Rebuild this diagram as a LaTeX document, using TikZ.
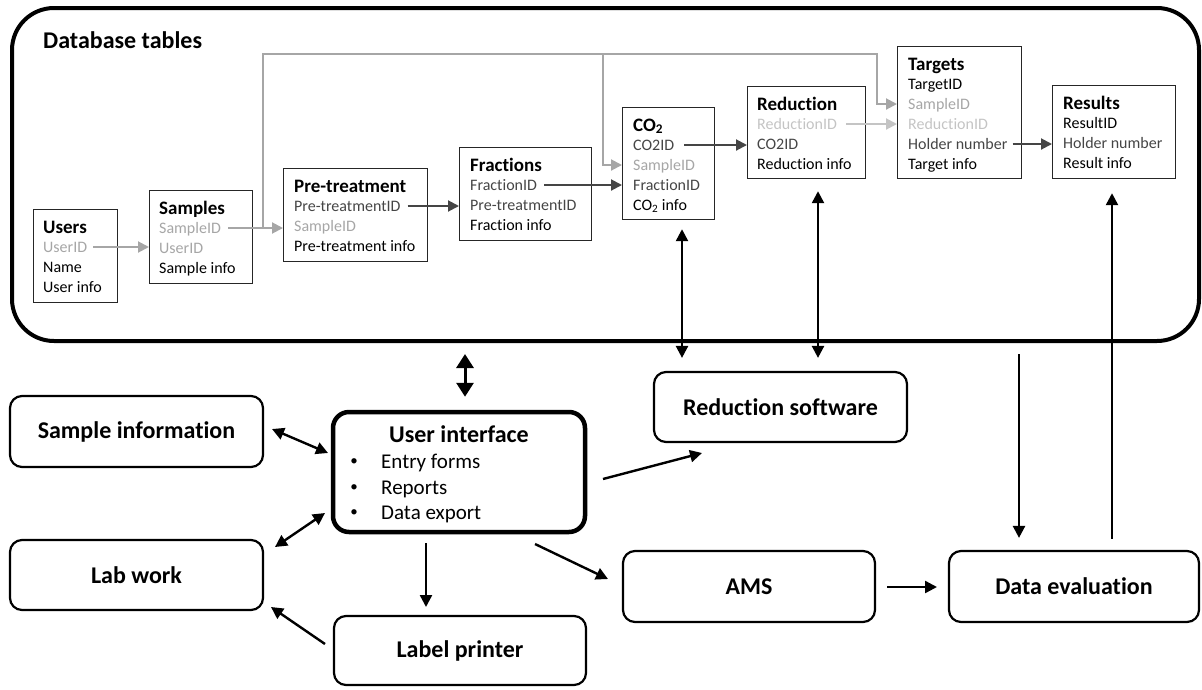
\documentclass[tikz,border=0pt]{standalone}
\usepackage{fontspec}
\setmainfont{Carlito}[Ligatures=NoCommon]
\usetikzlibrary{arrows.meta,calc}
\definecolor{keyL}{HTML}{A6A6A6}
\definecolor{keyVL}{HTML}{C4C4C4}
\definecolor{keyD}{HTML}{454545}
\begin{document}
\begin{tikzpicture}[x=1pt,y=-1pt,
  tbl/.style={draw=black!85, line width=1.2pt, inner sep=0pt, anchor=north west},
  fld/.style={anchor=west, inner sep=0pt, font=\fontsize{16}{20}\selectfont, text height=10.2pt, text depth=0pt},
  ttl/.style={anchor=west, inner sep=0pt, font=\fontsize{19}{23}\selectfont\bfseries, text height=12pt, text depth=0pt},
  lbox/.style={draw, line width=2.2pt, rounded corners=12pt, inner sep=0pt, font=\fontsize{24}{28}\selectfont\bfseries},
  item/.style={anchor=west, inner sep=0pt, font=\fontsize{21}{26}\selectfont, text height=13.5pt, text depth=0pt},
  bul/.style={inner sep=0pt, font=\fontsize{15}{18}\selectfont},
  fa/.style={line width=2pt, -{Triangle[length=11pt,width=11pt]}},
  arr/.style={line width=2.4pt, -{Triangle[length=12pt,width=12pt]}},
  darr/.style={line width=2.4pt, {Triangle[length=12pt,width=12pt]}-{Triangle[length=12pt,width=12pt]}},
  darrB/.style={line width=3pt, {Triangle[length=14pt,width=17pt]}-{Triangle[length=14pt,width=17pt]}}
]
\useasboundingbox (0,0) rectangle (1202,689);

% database frame
\node[draw, line width=4pt, rounded corners=42pt, minimum width=1187pt, minimum height=333pt, anchor=north west, inner sep=0pt] (db) at (10,6) {};
\node[anchor=west, inner sep=0pt, font=\fontsize{24}{28}\selectfont\bfseries] (dbt) at (43,40) {Database tables};

% Users
\node[tbl, minimum width=84pt, minimum height=93pt] (users) at (33,209) {};
\node[ttl] (u-t) at (43,227) {Users};
\node[fld, text=keyL] (u-uid) at (43,247) {UserID};
\node[fld] (u-name) at (43,267) {Name};
\node[fld] (u-info) at (43,287) {User info};

% Samples
\node[tbl, minimum width=103pt, minimum height=93pt] (samples) at (149,190) {};
\node[ttl] (s-t) at (159,208) {Samples};
\node[fld, text=keyL] (s-sid) at (159,228) {SampleID};
\node[fld, text=keyL] (s-uid) at (159,248) {UserID};
\node[fld] (s-info) at (159,268) {Sample info};

% Pre-treatment
\node[tbl, minimum width=144pt, minimum height=93pt] (pre) at (283,168) {};
\node[ttl] (p-t) at (294,186) {Pre-treatment};
\node[fld, text=keyD] (p-pid) at (294,206) {Pre-treatmentID};
\node[fld, text=keyL] (p-sid) at (294,226) {SampleID};
\node[fld] (p-info) at (294,246) {Pre-treatment info};

% Fractions
\node[tbl, minimum width=132pt, minimum height=93pt] (fractions) at (459,147) {};
\node[ttl] (f-t) at (470,165) {Fractions};
\node[fld, text=keyD] (f-fid) at (470,185) {FractionID};
\node[fld, text=keyD] (f-pid) at (470,205) {Pre-treatmentID};
\node[fld] (f-info) at (470,225) {Fraction info};

% CO2
\node[tbl, minimum width=92pt, minimum height=112pt] (co2) at (622,107) {};
\node[ttl] (c-t) at (633,125) {CO\textsubscript{2}};
\node[fld, text=keyD] (c-cid) at (633,145) {CO2ID};
\node[fld, text=keyL] (c-sid) at (633,165) {SampleID};
\node[fld, text=keyD] (c-fid) at (633,185) {FractionID};
\node[fld] (c-info) at (633,205) {CO\textsubscript{2} info};

% Reduction
\node[tbl, minimum width=118pt, minimum height=92pt] (reduction) at (747,86) {};
\node[ttl] (r-t) at (757,104) {Reduction};
\node[fld, text=keyVL] (r-rid) at (757,124) {ReductionID};
\node[fld, text=keyD] (r-cid) at (757,144) {CO2ID};
\node[fld] (r-info) at (757,164) {Reduction info};

% Targets
\node[tbl, minimum width=124pt, minimum height=132pt] (targets) at (897,46) {};
\node[ttl] (t-t) at (908,64) {Targets};
\node[fld] (t-tid) at (908,84) {TargetID};
\node[fld, text=keyL] (t-sid) at (908,104) {SampleID};
\node[fld, text=keyVL] (t-rid) at (908,124) {ReductionID};
\node[fld, text=keyD] (t-hn) at (908,144) {Holder number};
\node[fld] (t-info) at (908,164) {Target info};

% Results
\node[tbl, minimum width=123pt, minimum height=93pt] (results) at (1052,85) {};
\node[ttl] (res-t) at (1063,103) {Results};
\node[fld] (res-id) at (1063,123) {ResultID};
\node[fld, text=keyD] (res-hn) at (1063,143) {Holder number};
\node[fld] (res-info) at (1063,163) {Result info};

% field arrows
\draw[fa, draw=keyL] ([xshift=6pt]u-uid.east) -- (u-uid.east -| samples.west);
\draw[fa, draw=keyL] ([xshift=7pt]s-sid.east) -- (s-sid.east -| pre.west);
\draw[fa, draw=keyL] (263,0 |- s-sid.east) |- (877,54) |- (t-sid.west -| targets.west);
\draw[fa, draw=keyL] (603,54) |- (c-sid.west -| co2.west);
\draw[fa, draw=keyD] ([xshift=7pt]p-pid.east) -- (p-pid.east -| fractions.west);
\draw[fa, draw=keyD] ([xshift=7pt]f-fid.east) -- (f-fid.east -| co2.west);
\draw[fa, draw=keyD] ([xshift=10pt]c-cid.east) -- (c-cid.east -| reduction.west);
\draw[fa, draw=keyVL] ([xshift=9pt]r-rid.east) -- (r-rid.east -| targets.west);
\draw[fa, draw=keyD] ([xshift=5pt]t-hn.east) -- (t-hn.east -| results.west);

% lower boxes
\node[lbox, minimum width=253pt, minimum height=71pt] (si) at (136.5,431.5) {Sample information};
\node[lbox, minimum width=253pt, minimum height=70pt] (lw) at (136.5,575) {Lab work};
\node[lbox, line width=4.5pt, rounded corners=16pt, minimum width=252pt, minimum height=120pt] (ui) at (459,472) {};
\node[inner sep=0pt, font=\fontsize{24}{28}\selectfont\bfseries] (ui-t) at (459,434) {User interface};
\node[bul] (ui-b1) at (354,462) {•};
\node[item] (ui-i1) at (381,462) {Entry forms};
\node[bul] (ui-b2) at (354,488) {•};
\node[item] (ui-i2) at (381,488) {Reports};
\node[bul] (ui-b3) at (354,513) {•};
\node[item] (ui-i3) at (381,513) {Data export};
\node[lbox, minimum width=252pt, minimum height=69pt] (lp) at (460,650.5) {Label printer};
\node[lbox, minimum width=253pt, minimum height=70pt] (rs) at (780.5,407) {Reduction software};
\node[lbox, minimum width=252pt, minimum height=71pt] (ams) at (749,586.5) {AMS};
\node[lbox, minimum width=250pt, minimum height=71pt] (de) at (1074,586.5) {Data evaluation};

% vertical connectors
\draw[darrB, shorten <=11pt, shorten >=13pt] (465,0 |- db.south) -- (465,0 |- ui.north);
\draw[darr, shorten <=9pt, shorten >=13pt] (682,0 |- co2.south) -- (682,0 |- rs.north);
\draw[darr, shorten <=12pt, shorten >=13pt] (818,0 |- reduction.south) -- (818,0 |- rs.north);
\draw[arr, shorten <=11pt, shorten >=12pt] (1019,0 |- db.south) -- (1019,0 |- de.north);
\draw[arr, shorten <=11pt, shorten >=14pt] (1112,0 |- de.north) -- (1112,0 |- results.south);

% diagonal connectors
\coordinate (siA) at (272,429);
\coordinate (uiA) at (328,453);
\coordinate (lwA) at (275,547);
\coordinate (uiB) at (325,513);
\coordinate (lpA) at (325,644);
\coordinate (lwB) at (271,607);
\coordinate (uiC) at (426,543);
\coordinate (lpB) at (426,607);
\coordinate (uiD) at (535,544);
\coordinate (amsA) at (608,579);
\coordinate (uiE) at (603,479);
\coordinate (rsA) at (702,453);
\coordinate (amsB) at (887,587);
\coordinate (deA) at (937,587);
\draw[darr] (siA) -- (uiA);
\draw[darr] (lwA) -- (uiB);
\draw[arr] (lpA) -- (lwB);
\draw[arr] (uiC) -- (lpB);
\draw[arr] (uiD) -- (amsA);
\draw[arr] (uiE) -- (rsA);
\draw[arr] (amsB) -- (deA);
\end{tikzpicture}
\end{document}
